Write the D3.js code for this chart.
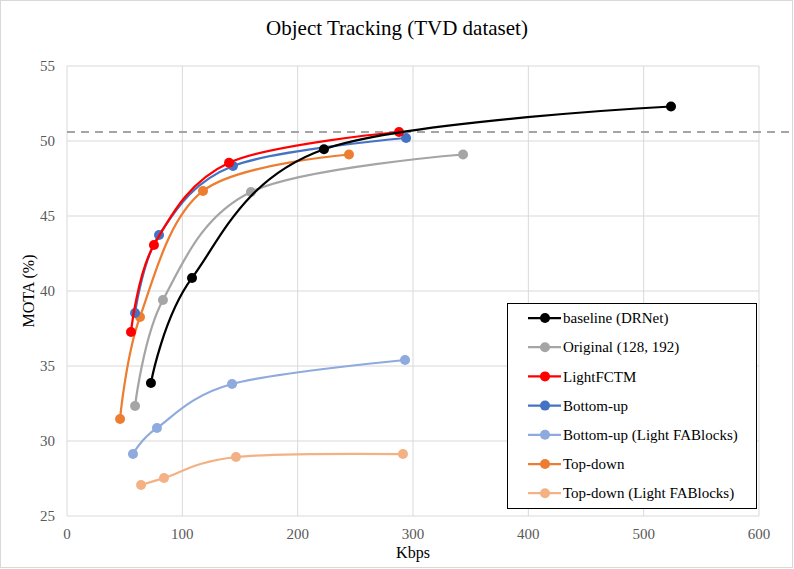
<!DOCTYPE html>
<html>
<head>
<meta charset="utf-8">
<script src="https://cdn.jsdelivr.net/npm/d3@7"></script>
<style>
  body { margin: 0; background: #fff; }
  svg { display: block; }
  text { font-family: "Liberation Serif", "DejaVu Serif", serif; }
  .grid line { stroke: #d9d9d9; stroke-width: 1; }
  .tick-label { fill: #595959; font-size: 15px; }
</style>
</head>
<body>
<svg id="chart" width="794" height="569"></svg>
<script>
// Object Tracking (TVD dataset): MOTA vs Kbps, smoothed line series with markers.

const xTicks = [0, 100, 200, 300, 400, 500, 600];
const yTicks = [25, 30, 35, 40, 45, 50, 55];
const referenceMota = 50.6;

const seriesNames = [
  "baseline (DRNet)",
  "Original (128, 192)",
  "LightFCTM",
  "Bottom-up",
  "Bottom-up (Light FABlocks)",
  "Top-down",
  "Top-down (Light FABlocks)",
];
const seriesColors = ["#000000", "#a5a5a5", "#ff0000", "#4472c4", "#8faadc", "#ed7d31", "#f4b183"];

const baselineKbps = [72.8, 108.4, 222.8, 523.7];
const baselineMota = [33.87, 40.87, 49.45, 52.3];
const originalKbps = [59.0, 83.2, 159.5, 343.4];
const originalMota = [32.33, 39.4, 46.6, 49.1];
const lightFctmKbps = [55.5, 75.4, 140.5, 287.9];
const lightFctmMota = [37.27, 43.07, 48.55, 50.6];
const bottomUpKbps = [59.0, 79.8, 143.9, 294.0];
const bottomUpMota = [38.53, 43.73, 48.33, 50.2];
const bottomUpLightKbps = [57.2, 78.0, 143.1, 293.1];
const bottomUpLightMota = [29.13, 30.87, 33.8, 35.4];
const topDownKbps = [46.0, 63.3, 117.9, 244.5];
const topDownMota = [31.47, 38.27, 46.67, 49.1];
const topDownLightKbps = [64.2, 84.1, 146.5, 291.3];
const topDownLightMota = [27.07, 27.53, 28.93, 29.13];

const kbpsBySeries = [baselineKbps, originalKbps, lightFctmKbps, bottomUpKbps, bottomUpLightKbps, topDownKbps, topDownLightKbps];
const motaBySeries = [baselineMota, originalMota, lightFctmMota, bottomUpMota, bottomUpLightMota, topDownMota, topDownLightMota];

const series = seriesNames.map((name, i) => ({
  name,
  color: seriesColors[i],
  points: kbpsBySeries[i].map((x, j) => ({ x, y: motaBySeries[i][j] })),
}));

const svg = d3.select("#chart");
const margin = { left: 67, top: 66, right: 35, bottom: 53 };
const width = 794 - margin.left - margin.right;
const height = 569 - margin.top - margin.bottom;

// outer frame
svg.append("rect")
  .attr("x", 0.5).attr("y", 0.5)
  .attr("width", 792).attr("height", 567)
  .attr("fill", "#fff")
  .attr("stroke", "#d9d9d9");

const g = svg.append("g").attr("transform", `translate(${margin.left},${margin.top})`);

const xScale = d3.scaleLinear().domain([0, 600]).range([0, width]);
const yScale = d3.scaleLinear().domain([25, 55]).range([height, 0]);

// grid
const grid = g.append("g").attr("class", "grid");
grid.selectAll(".gy").data(yTicks).join("line")
  .attr("x1", 0).attr("x2", width)
  .attr("y1", (d) => yScale(d)).attr("y2", (d) => yScale(d));
grid.selectAll(".gx").data(xTicks).join("line")
  .attr("x1", (d) => xScale(d)).attr("x2", (d) => xScale(d))
  .attr("y1", 0).attr("y2", height);

// tick labels
g.selectAll(".ylab").data(yTicks).join("text")
  .attr("class", "tick-label")
  .attr("x", -12).attr("y", (d) => yScale(d))
  .attr("dy", "0.35em")
  .attr("text-anchor", "end")
  .text((d) => d);
g.selectAll(".xlab").data(xTicks).join("text")
  .attr("class", "tick-label")
  .attr("x", (d) => xScale(d)).attr("y", height + 23)
  .attr("text-anchor", "middle")
  .text((d) => d);

// titles
svg.append("text")
  .attr("x", 397).attr("y", 35)
  .attr("text-anchor", "middle")
  .attr("font-size", 21)
  .attr("fill", "#000")
  .text("Object Tracking (TVD dataset)");
svg.append("text")
  .attr("transform", `translate(34,${margin.top + height / 2}) rotate(-90)`)
  .attr("text-anchor", "middle")
  .attr("font-size", 16)
  .text("MOTA (%)");
svg.append("text")
  .attr("x", margin.left + width / 2).attr("y", 558)
  .attr("text-anchor", "middle")
  .attr("font-size", 16)
  .text("Kbps");

// reference dashed line (extends past plot edge)
g.append("line")
  .attr("x1", xScale(0)).attr("x2", xScale(626))
  .attr("y1", yScale(referenceMota)).attr("y2", yScale(referenceMota))
  .attr("stroke", "#a5a5a5")
  .attr("stroke-width", 2)
  .attr("stroke-dasharray", "8,6");

// Excel-style smoothing ~ uniform Catmull-Rom
const line = d3.line()
  .x((d) => xScale(d.x))
  .y((d) => yScale(d.y))
  .curve(d3.curveCardinal.tension(0));

const drawOrder = [...series].reverse();
const seriesG = g.selectAll(".series").data(drawOrder).join("g").attr("class", "series");
seriesG.append("path")
  .attr("d", (s) => line(s.points))
  .attr("fill", "none")
  .attr("stroke", (s) => s.color)
  .attr("stroke-width", 2.25);
seriesG.selectAll("circle").data((s) => s.points.map((p) => ({ ...p, color: s.color }))).join("circle")
  .attr("cx", (d) => xScale(d.x))
  .attr("cy", (d) => yScale(d.y))
  .attr("r", 5)
  .attr("fill", (d) => d.color);

// legend
const legend = svg.append("g").attr("transform", "translate(507,303)");
legend.append("rect")
  .attr("x", 0.5).attr("y", 0.5)
  .attr("width", 249).attr("height", 205)
  .attr("fill", "#fff")
  .attr("stroke", "#000")
  .attr("stroke-width", 1);
const rows = legend.selectAll(".row").data(series).join("g")
  .attr("transform", (d, i) => `translate(0,${15 + i * 29.2})`);
rows.append("line")
  .attr("x1", 21).attr("x2", 54)
  .attr("stroke", (d) => d.color)
  .attr("stroke-width", 2.25);
rows.append("circle")
  .attr("cx", 38).attr("r", 5)
  .attr("fill", (d) => d.color);
rows.append("text")
  .attr("x", 56).attr("dy", "0.35em")
  .attr("font-size", 15)
  .text((d) => d.name);
</script>
</body>
</html>
